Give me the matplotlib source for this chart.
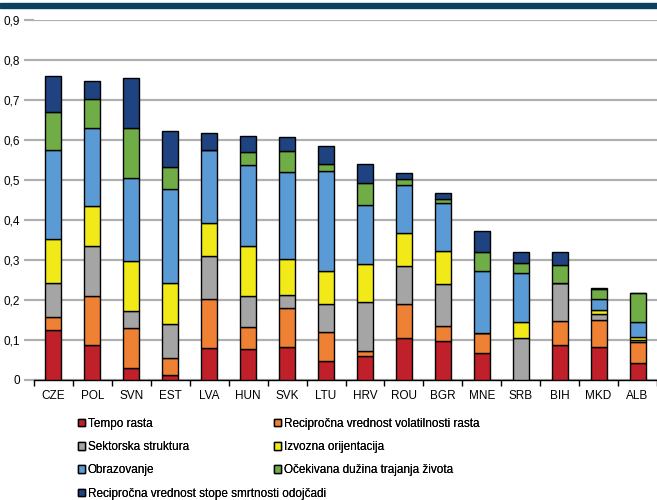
import matplotlib
matplotlib.use("Agg")
import matplotlib.pyplot as plt
from matplotlib.patches import Patch, Rectangle
import numpy as np

plt.rcParams['font.family'] = ['Liberation Sans', 'DejaVu Sans']

countries = ["CZE", "POL", "SVN", "EST", "LVA", "HUN", "SVK", "LTU",
             "HRV", "ROU", "BGR", "MNE", "SRB", "BIH", "MKD", "ALB"]

tempo = [0.125, 0.087, 0.031, 0.0125, 0.080, 0.077, 0.082, 0.048,
         0.060, 0.105, 0.098, 0.067, 0.0, 0.0875, 0.082, 0.042]
volatilnost = [0.033, 0.124, 0.098, 0.0415, 0.123, 0.055, 0.099, 0.071,
               0.0125, 0.085, 0.037, 0.051, 0.0, 0.060, 0.068, 0.053]
sektorska = [0.084, 0.125, 0.044, 0.085, 0.108, 0.078, 0.0315, 0.072,
             0.1215, 0.095, 0.104, 0.0, 0.104, 0.0955, 0.015, 0.005]
izvozna = [0.110, 0.099, 0.124, 0.103, 0.0815, 0.126, 0.0905, 0.0815,
           0.095, 0.082, 0.0835, 0.0, 0.042, 0.0, 0.010, 0.007]
obrazovanje = [0.2225, 0.195, 0.209, 0.2355, 0.1825, 0.201, 0.216, 0.250,
               0.148, 0.120, 0.1205, 0.1545, 0.121, 0.0, 0.027, 0.037]
zivot = [0.096, 0.0725, 0.123, 0.0545, 0.0, 0.032, 0.054, 0.0175,
         0.056, 0.0155, 0.009, 0.0485, 0.025, 0.044, 0.025, 0.074]
smrtnost = [0.090, 0.045, 0.125, 0.090, 0.043, 0.040, 0.035, 0.046,
            0.047, 0.0145, 0.0155, 0.0515, 0.029, 0.032, 0.003, 0.0]

series = [
    ("Tempo rasta", tempo, "#c0202a"),
    ("Recipročna vrednost volatilnosti rasta", volatilnost, "#ee8133"),
    ("Sektorska struktura", sektorska, "#a5a5a5"),
    ("Izvozna orijentacija", izvozna, "#f2e918"),
    ("Obrazovanje", obrazovanje, "#5b9bd5"),
    ("Očekivana dužina trajanja života", zivot, "#70ad47"),
    ("Recipročna vrednost stope smrtnosti odojčadi", smrtnost, "#1f4280"),
]

fig = plt.figure(figsize=(6.57, 5.0), dpi=100)
ax = fig.add_axes([34 / 657, 0.24, 1 - 34 / 657, 0.72])

x = np.arange(len(countries))
bottom = np.zeros(len(countries))
for name, vals, color in series:
    ax.bar(x, vals, 0.41, bottom=bottom, color=color, edgecolor="black",
           linewidth=1.0, label=name, zorder=3)
    bottom += np.array(vals)

ax.set_xlim(-0.5, len(countries) - 0.5)
ax.set_ylim(0, 0.9)
yt = np.arange(0, 0.91, 0.1)
ax.set_yticks(yt)
ax.set_yticklabels(["0"] + [f"{v:.1f}".replace(".", ",") for v in yt[1:]],
                   fontsize=8.5)
ax.yaxis.grid(True, color="#b0b0b0", linewidth=1.6, zorder=0)
ax.tick_params(axis="y", length=7, width=1.6, color="#b0b0b0", pad=3)

ax.set_xticks(x)
ax.set_xticklabels(countries, fontsize=8.5)
ax.set_xticks(np.arange(-0.5, len(countries), 1), minor=True)
ax.tick_params(axis="x", which="major", length=0, pad=7)
ax.tick_params(axis="x", which="minor", length=4, width=1, color="black")

for s in ["top", "right", "left"]:
    ax.spines[s].set_visible(False)
ax.spines["bottom"].set_color("black")
ax.spines["bottom"].set_linewidth(1)

# dark band at the top (cropped title bar)
fig.patches.append(Rectangle((0, 492 / 500), 1, 5 / 500, transform=fig.transFigure,
                             color="#0d3f60", zorder=5))

# legend in two columns, filled row by row
col1 = [0, 2, 4, 6]
col2 = [1, 3, 5]
for idx, xpos in [(col1, 72), (col2, 268)]:
    handles = [Patch(facecolor=series[i][2], edgecolor="black", linewidth=1)
               for i in idx]
    labels = [series[i][0] for i in idx]
    leg = fig.legend(handles, labels, loc="upper left",
                     bbox_to_anchor=(xpos / 657, 1 - 412 / 500), frameon=False,
                     fontsize=8.5, handlelength=0.6, handleheight=0.6,
                     handletextpad=0.25, labelspacing=0.95, borderpad=0)
    fig.add_artist(leg)

fig.savefig("out.png", dpi=100)
